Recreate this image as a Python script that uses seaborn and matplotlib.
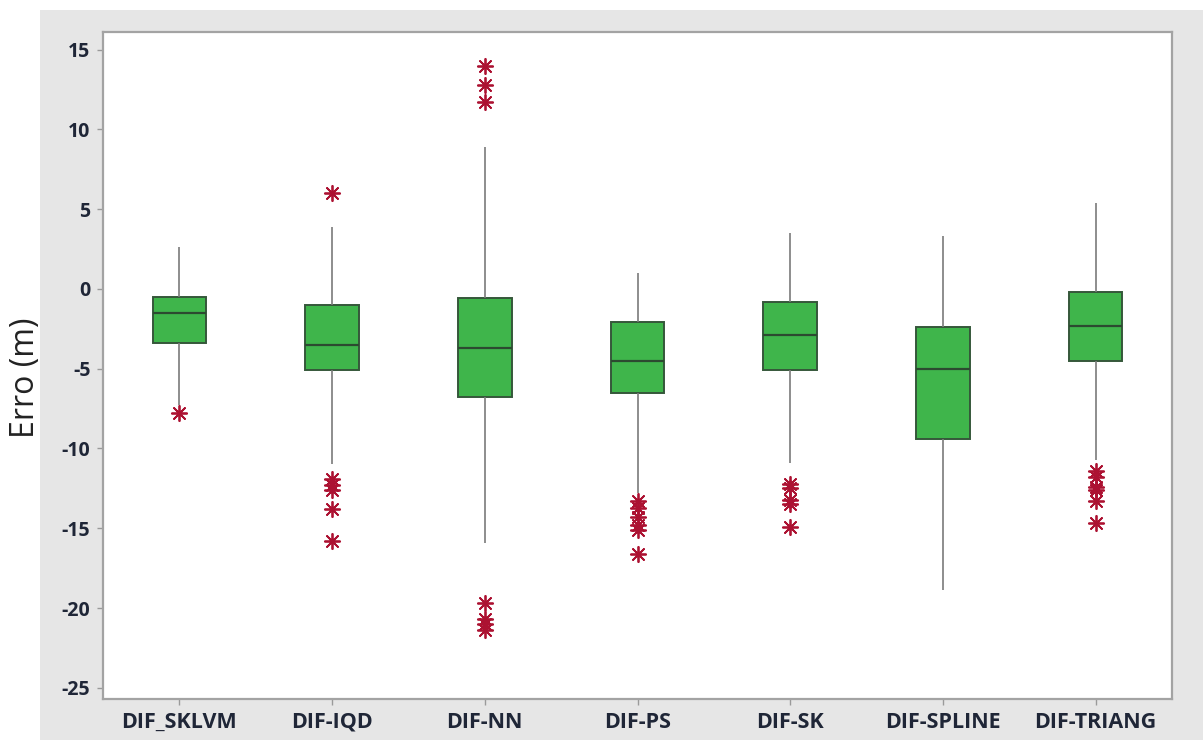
import matplotlib

matplotlib.use('Agg')

import matplotlib.pyplot as plt
import matplotlib.patches as mpatches
import seaborn as sns
import pandas as pd


methods = [
    'DIF_SKLVM', 'DIF-IQD', 'DIF-NN', 'DIF-PS',
    'DIF-SK', 'DIF-SPLINE', 'DIF-TRIANG',
]

# box summary
whisker_low = [-7.3, -11.0, -15.9, -12.8, -10.9, -18.9, -10.7]
q1 = [-3.4, -5.1, -6.8, -6.5, -5.1, -9.4, -4.5]
median = [-1.5, -3.5, -3.7, -4.5, -2.9, -5.0, -2.3]
q3 = [-0.5, -1.0, -0.6, -2.1, -0.8, -2.4, -0.2]
whisker_high = [2.6, 3.9, 8.9, 1.0, 3.5, 3.3, 5.4]

outliers = {
    'DIF_SKLVM': [-7.8],
    'DIF-IQD': [6.0, -11.9, -12.3, -12.6, -13.8, -15.8],
    'DIF-NN': [14.0, 12.8, 11.7, -19.7, -20.7, -21.0, -21.4],
    'DIF-PS': [-13.3, -13.7, -14.3, -14.8, -15.1, -16.6],
    'DIF-SK': [-12.2, -12.5, -13.2, -13.5, -14.9],
    'DIF-SPLINE': [],
    'DIF-TRIANG': [-11.4, -11.8, -12.4, -12.6, -13.3, -14.7],
}

y_ticks = [-25, -20, -15, -10, -5, 0, 5, 10, 15]

box_color = '#3fb54b'
edge_color = '#35573a'
flier_color = '#ac1232'
tick_color = '#1f2637'


rows = []

for i, m in enumerate(methods):

    for v in (whisker_low[i], q1[i], median[i], q3[i], whisker_high[i]):

        rows.append({'method': m, 'erro': v})

box_df = pd.DataFrame(rows)

flier_df = pd.DataFrame(
    [
        {'method': m, 'erro': v}
        for m in methods
        for v in outliers[m]
    ]
)

sns.set_style('white')

plt.rcParams['font.family'] = ['Open Sans', 'DejaVu Sans']
plt.rcParams['axes.unicode_minus'] = False

fig = plt.figure(
    figsize=(12.03, 7.40),
    dpi=100,
)

fig.patch.set_facecolor('white')

fig.patches.append(
    mpatches.Rectangle(
        (40 / 1203, 0),
        1.0,
        730 / 740,
        transform=fig.transFigure,
        facecolor='#e6e6e6',
        edgecolor='none',
        zorder=-5,
    )
)

ax = fig.add_axes(
    [103 / 1203, 41 / 740, 1069 / 1203, 667 / 740],
)

ax.set_zorder(2)

sns.boxplot(
    data=box_df,
    x='method',
    y='erro',
    order=methods,
    width=0.35,
    whis=(0, 100),
    showfliers=False,
    color=box_color,
    saturation=1,
    linewidth=1.4,
    boxprops={'facecolor': box_color, 'edgecolor': edge_color},
    medianprops={'color': '#2c4a30', 'linewidth': 1.6},
    whiskerprops={'color': '#7a7a7a', 'linewidth': 1.2},
    capprops={'linewidth': 0},
    ax=ax,
)

sns.stripplot(
    data=flier_df,
    x='method',
    y='erro',
    order=methods,
    jitter=False,
    marker=(8, 2, 0),
    size=11,
    color=flier_color,
    edgecolor=flier_color,
    linewidth=1.3,
    ax=ax,
)

ax.set_xlim(-0.5, 6.5)
ax.set_ylim(-25.7, 16.1)
ax.set_yticks(y_ticks)
ax.set_yticklabels([str(t) for t in y_ticks])

ax.set_xlabel('')
ax.set_ylabel('')

ax.set_facecolor('white')

for side in ax.spines.values():

    side.set_color('#a3a3a3')
    side.set_linewidth(1.6)

ax.tick_params(
    axis='both',
    which='major',
    direction='out',
    length=4,
    width=1,
    color='#9a9a9a',
    labelcolor=tick_color,
    left=True,
    bottom=True,
)

ax.tick_params(axis='x', labelsize=15.5, pad=5)
ax.tick_params(axis='y', labelsize=14, pad=5)

for lbl in ax.get_xticklabels() + ax.get_yticklabels():

    lbl.set_fontweight('bold')

fig.text(
    0.021,
    0.489,
    'Erro (m)',
    rotation=90,
    ha='center',
    va='center',
    fontsize=23,
    color='#222222',
)

plt.savefig(
    'out.png',
    dpi=100,
    facecolor='white',
)

plt.close()
